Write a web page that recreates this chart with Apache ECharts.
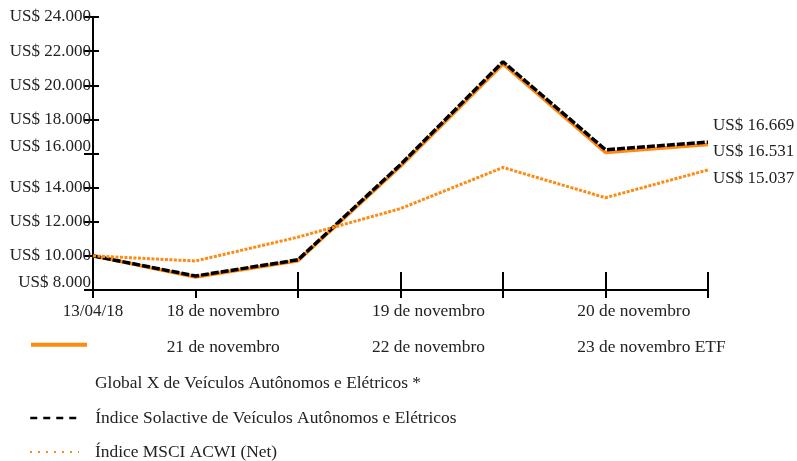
<!DOCTYPE html>
<html>
<head>
<meta charset="utf-8">
<script src="https://cdn.jsdelivr.net/npm/echarts@6/dist/echarts.min.js"></script>
<style>
  html, body { margin: 0; padding: 0; background: #fff; }
  #chart { width: 797px; height: 461px; }
</style>
</head>
<body>
<div id="chart"></div>
<script>
// pontos do gráfico (7 posições no eixo x)
const xPoints = ["13/04/18", "", "", "", "", "", ""]
// rótulos de datas em duas linhas, como no original
const dateRow1 = ["18 de novembro", "19 de novembro", "20 de novembro"]
const dateRow2 = ["21 de novembro", "22 de novembro", "23 de novembro ETF"]

const seriesNames = [
  "Global X de Veículos Autônomos e Elétricos *",
  "Índice Solactive de Veículos Autônomos e Elétricos",
  "Índice MSCI ACWI (Net)"
]
const globalX = [10000, 8760, 9720, 15250, 21250, 16060, 16531]
const solactive = [10000, 8820, 9770, 15350, 21380, 16220, 16669]
const msci = [10000, 9700, 11100, 12770, 15180, 13410, 15037]

const yMin = 8000
const yMax = 24000
const yStep = 2000

const orange = "#ff8a12"
const font = "Liberation Serif"
const fs = 17.4

function fmt(v) {
  return "US$ " + String(Math.round(v)).replace(/\B(?=(\d{3})+(?!\d))/g, ".")
}

// esconde o símbolo do ícone da legenda, deixando só a linha
const noSymbol = { color: "transparent", borderColor: "transparent", borderWidth: 0 }

const chart = echarts.init(document.getElementById("chart"))

chart.setOption({
  animation: false,
  textStyle: { fontFamily: font, color: "#222" },
  grid: [
    { left: 93, right: 89, top: 17, bottom: 171 },
    { left: 64, right: 117, top: 17, bottom: 171 }
  ],
  xAxis: [
    {
      type: "category", gridIndex: 0, data: xPoints, boundaryGap: false, position: "bottom",
      axisLine: { lineStyle: { color: "#000", width: 2 } },
      axisTick: { length: 8, lineStyle: { color: "#000", width: 2 } },
      axisLabel: { interval: 0, margin: 13, fontSize: 17, color: "#222", fontFamily: font }
    },
    {
      type: "category", gridIndex: 0, data: xPoints, boundaryGap: false, position: "bottom",
      axisLine: { show: false },
      axisTick: { inside: true, length: 18, interval: (i) => i >= 2, lineStyle: { color: "#000", width: 2 } },
      axisLabel: { show: false }
    },
    {
      type: "category", gridIndex: 1, position: "bottom",
      data: dateRow1.map((d, i) => d + "\n" + dateRow2[i]),
      axisLine: { show: false }, axisTick: { show: false },
      axisLabel: { interval: 0, align: "left", margin: 3, fontSize: fs, lineHeight: 36, color: "#222", fontFamily: font }
    }
  ],
  yAxis: [
    {
      type: "value", gridIndex: 0, min: yMin, max: yMax, interval: yStep,
      splitLine: { show: false },
      axisLine: { show: true, lineStyle: { color: "#000", width: 2 } },
      axisTick: { show: true, length: 9, lineStyle: { color: "#000", width: 2 } },
      axisLabel: {
        margin: 2, fontSize: 17, color: "#222", fontFamily: font,
        formatter: (v) => (v === 16000 || v === 8000) ? "{up|" + fmt(v) + "}" : fmt(v),
        rich: { up: { fontSize: 17, fontFamily: font, color: "#222", padding: [0, 0, 14, 0] } }
      }
    },
    {
      type: "value", gridIndex: 0, min: yMin, max: yMax, interval: yStep, position: "left",
      splitLine: { show: false }, axisLine: { show: false }, axisLabel: { show: false },
      axisTick: { show: true, inside: true, length: 6, lineStyle: { color: "#000", width: 2 } }
    },
    { type: "value", gridIndex: 1, show: false, min: yMin, max: yMax }
  ],
  legend: [
    {
      data: [{ name: seriesNames[0], itemStyle: noSymbol, lineStyle: { color: orange, width: 4, type: "solid" } }],
      left: 29, top: 296, padding: 0, itemWidth: 56, itemHeight: 14,
      formatter: (n) => "\n\n\n\n" + n,
      textStyle: { fontSize: fs, lineHeight: 19.5, fontFamily: font, color: "#222", padding: [0, 0, 0, 3] }
    },
    {
      data: [{ name: seriesNames[1], itemStyle: noSymbol, lineStyle: { color: "#000", width: 2.5, type: [7, 6] } }],
      left: 29, top: 408, padding: 0, itemWidth: 49, itemHeight: 14,
      textStyle: { fontSize: fs, lineHeight: 20, fontFamily: font, color: "#222", padding: [0, 0, 0, 11] }
    },
    {
      data: [{ name: seriesNames[2], itemStyle: noSymbol, lineStyle: { color: orange, width: 2, type: [2, 6] } }],
      left: 29, top: 442, padding: 0, itemWidth: 49, itemHeight: 14,
      textStyle: { fontSize: fs, lineHeight: 20, fontFamily: font, color: "#222", padding: [0, 0, 0, 11] }
    }
  ],
  series: [
    {
      name: seriesNames[0], type: "line", data: globalX, symbol: "none",
      xAxisIndex: 0, yAxisIndex: 0,
      lineStyle: { color: orange, width: 3.5 }, itemStyle: { color: orange },
      endLabel: { show: true, distance: 5, offset: [0, 7], formatter: (p) => fmt(p.value), fontSize: 17, fontFamily: font, color: "#222" }
    },
    {
      name: seriesNames[1], type: "line", data: solactive, symbol: "none",
      xAxisIndex: 0, yAxisIndex: 0,
      lineStyle: { color: "#000", width: 3.5, type: [8, 2] }, itemStyle: { color: "#000" },
      endLabel: { show: true, distance: 5, offset: [0, -17], formatter: (p) => fmt(p.value), fontSize: 17, fontFamily: font, color: "#222" }
    },
    {
      name: seriesNames[2], type: "line", data: msci, symbol: "none",
      xAxisIndex: 0, yAxisIndex: 0,
      lineStyle: { color: orange, width: 3, type: [3, 1.5] }, itemStyle: { color: orange },
      endLabel: { show: true, distance: 5, offset: [0, 9], formatter: (p) => fmt(p.value), fontSize: 17, fontFamily: font, color: "#222" }
    }
  ]
})
</script>
</body>
</html>
